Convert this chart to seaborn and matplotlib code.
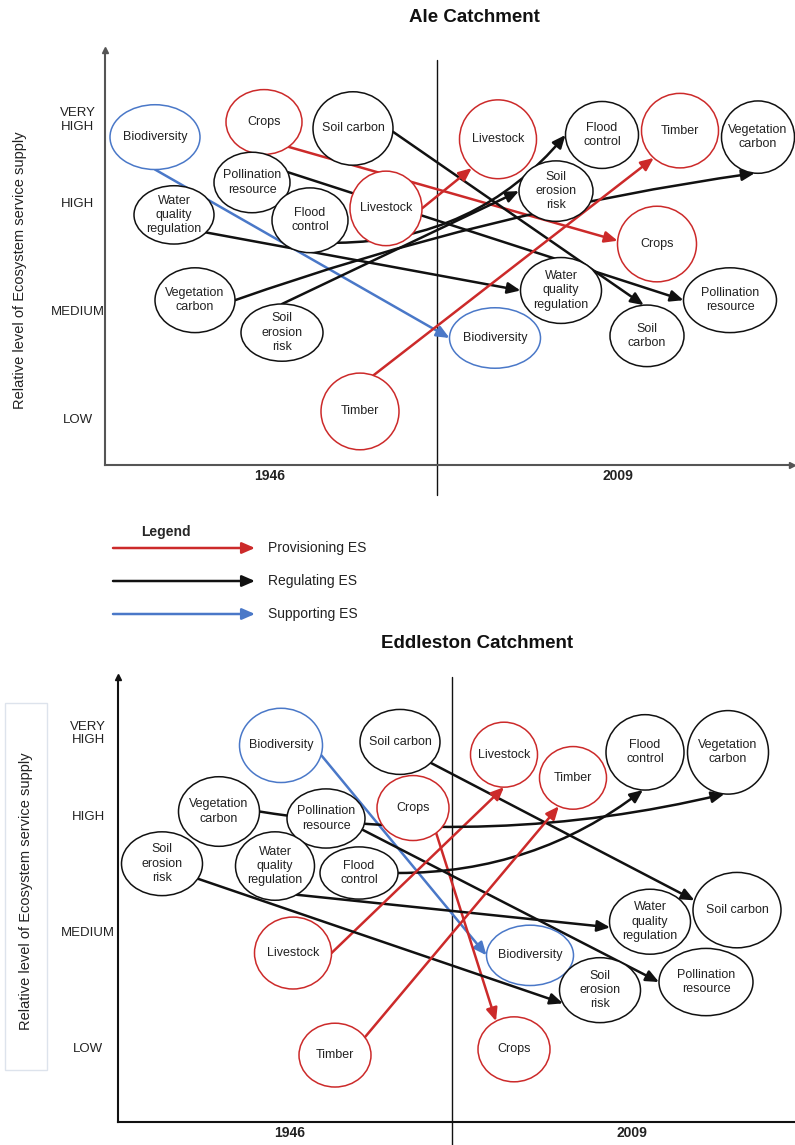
import numpy as np
import matplotlib
matplotlib.use("Agg")
import matplotlib.pyplot as plt
import seaborn as sns
from matplotlib.patches import Ellipse, FancyArrowPatch, Rectangle

# ===============================
# DATA
# ===============================
# service order used by every list below
SERVICE_TYPE = ["S", "P", "R", "R", "R", "R", "P", "R", "R", "P"]
TYPE_COLORS = {"P": "#cc2a2a", "R": "#111111", "S": "#4a78c8"}

LEGEND_TYPES = ["P", "R", "S"]
LEGEND_LABELS = ["Provisioning ES", "Regulating ES", "Supporting ES"]

LEVEL_LABELS = ["LOW", "MEDIUM", "HIGH", "VERY\nHIGH"]
YEAR_LABELS = ["1946", "2009"]

# ---- Ale catchment ----
ALE_LABELS_1946 = ["Biodiversity", "Crops", "Soil carbon", "Pollination\nresource",
                   "Water\nquality\nregulation", "Flood\ncontrol", "Livestock",
                   "Vegetation\ncarbon", "Soil\nerosion\nrisk", "Timber"]
ALE_LABELS_2009 = ["Biodiversity", "Crops", "Soil\ncarbon", "Pollination\nresource",
                   "Water\nquality\nregulation", "Flood\ncontrol", "Livestock",
                   "Vegetation\ncarbon", "Soil\nerosion\nrisk", "Timber"]
ALE_POS_1946 = [155, 264, 353, 252, 174, 310, 386, 195, 282, 360]
ALE_LEVEL_1946 = [3.61, 3.75, 3.69, 3.19, 2.89, 2.84, 2.95, 2.10, 1.80, 1.07]
ALE_POS_2009 = [495, 657, 647, 730, 561, 602, 498, 758, 556, 680]
ALE_LEVEL_2009 = [1.75, 2.62, 1.77, 2.10, 2.19, 3.63, 3.59, 3.61, 3.11, 3.67]
ALE_LEVEL_TICKS = [1, 2, 3, 3.79]

# ---- Eddleston catchment ----
EDD_LABELS_1946 = ["Biodiversity", "Crops", "Soil carbon", "Pollination\nresource",
                   "Water\nquality\nregulation", "Flood\ncontrol", "Livestock",
                   "Vegetation\ncarbon", "Soil\nerosion\nrisk", "Timber"]
EDD_LABELS_2009 = ["Biodiversity", "Crops", "Soil carbon", "Pollination\nresource",
                   "Water\nquality\nregulation", "Flood\ncontrol", "Livestock",
                   "Vegetation\ncarbon", "Soil\nerosion\nrisk", "Timber"]
EDD_POS_1946 = [281, 413, 400, 326, 275, 359, 293, 219, 162, 335]
EDD_LEVEL_1946 = [3.60, 3.06, 3.63, 2.97, 2.56, 2.50, 1.81, 3.03, 2.58, 0.93]
EDD_POS_2009 = [530, 514, 737, 706, 650, 645, 504, 728, 600, 573]
EDD_LEVEL_2009 = [1.79, 0.98, 2.18, 1.56, 2.08, 3.54, 3.52, 3.54, 1.49, 3.32]
EDD_LEVEL_TICKS = [1, 2, 3, 3.72]

# ===============================
# STYLE (bubble sizes, arrow anchors)
# ===============================
ALE_W_1946 = [90, 76, 80, 76, 80, 76, 72, 80, 82, 78]
ALE_H_1946 = [0.60, 0.60, 0.68, 0.56, 0.54, 0.60, 0.69, 0.60, 0.53, 0.71]
ALE_W_2009 = [91, 79, 74, 93, 81, 73, 77, 73, 74, 77]
ALE_H_2009 = [0.56, 0.70, 0.57, 0.60, 0.61, 0.62, 0.73, 0.67, 0.56, 0.69]
ALE_START_ANG = [-90, -50, -5, 20, -37, -44, 0, 0, 90, 70]
ALE_END_ANG = [180, 175, 95, 180, 180, 180, 227, -95, 180, 227]
ALE_RAD = [0, 0, 0, 0, 0, 0.23, 0, -0.05, 0, 0]

EDD_W_1946 = [83, 72, 80, 78, 79, 78, 77, 81, 81, 72]
EDD_H_1946 = [0.64, 0.56, 0.56, 0.51, 0.59, 0.45, 0.62, 0.60, 0.55, 0.55]
EDD_W_2009 = [87, 72, 88, 94, 81, 78, 67, 81, 81, 67]
EDD_H_2009 = [0.52, 0.56, 0.65, 0.58, 0.56, 0.65, 0.56, 0.72, 0.56, 0.54]
EDD_START_ANG = [-15, -50, -40, -22, -57, 0, 0, 0, -28, 34]
EDD_END_ANG = [180, 120, 165, 180, 190, -93, -90, -95, 204, 245]
EDD_RAD = [0, 0, 0, 0, 0, 0.17, 0, 0.1, 0, 0]

# ===============================
# FIGURE
# ===============================
sns.set_theme(style="white")
plt.rcParams["font.family"] = ["Liberation Sans", "DejaVu Sans"]

FIG_W, FIG_H = 795, 1145
fig = plt.figure(figsize=(FIG_W / 100, FIG_H / 100), dpi=100)


def px_axes(left, top, right, bottom):
    return fig.add_axes([left / FIG_W, 1 - bottom / FIG_H,
                         (right - left) / FIG_W, (bottom - top) / FIG_H])


def edge_point(x, lvl, w, h, ang):
    t = np.deg2rad(ang)
    return x + w / 2 * np.cos(t), lvl + h / 2 * np.sin(t)


def draw_panel(ax, nodes_1946, nodes_2009, start_ang, end_ang, rads):
    # arrows first, bubbles (white filled) go on top
    for i, kind in enumerate(SERVICE_TYPE):
        a = nodes_1946[i]
        b = nodes_2009[i]
        p0 = edge_point(a[0], a[1], a[2], a[3], start_ang[i])
        p1 = edge_point(b[0], b[1], b[2], b[3], end_ang[i])
        arr = FancyArrowPatch(p0, p1, arrowstyle="-|>,head_length=0.55,head_width=0.24",
                              mutation_scale=14, color=TYPE_COLORS[kind], lw=1.8,
                              shrinkA=0, shrinkB=0, zorder=2,
                              connectionstyle=f"arc3,rad={rads[i]}", clip_on=False)
        ax.add_patch(arr)
    for nodes in [nodes_1946, nodes_2009]:
        for i, kind in enumerate(SERVICE_TYPE):
            x, lvl, w, h, lab = nodes[i]
            ax.add_patch(Ellipse((x, lvl), w, h, facecolor="white",
                                 edgecolor=TYPE_COLORS[kind], lw=1.1, zorder=3, clip_on=False))
            ax.text(x, lvl, lab, ha="center", va="center", fontsize=9,
                    linespacing=1.25, color="#222222", zorder=4)


def style_axes(ax, ticks, year_pos, spine_color, tick_pad, ylab_xy, arrow_right):
    for side in ["top", "right"]:
        ax.spines[side].set_visible(False)
    for side in ["left", "bottom"]:
        ax.spines[side].set_color(spine_color)
        ax.spines[side].set_linewidth(1.5)
    ax.set_facecolor("none")
    ax.set_yticks(ticks, LEVEL_LABELS, fontsize=9.5, color="#222222")
    for t in ax.get_yticklabels():
        t.set_ha("center")
        t.set_multialignment("center")
        t.set_linespacing(1.15)
    ax.tick_params(axis="y", length=0, pad=tick_pad)
    ax.set_xticks(year_pos, YEAR_LABELS, fontsize=10, fontweight="bold", color="#222222")
    ax.tick_params(axis="x", length=0, pad=3)
    ax.set_ylabel("Relative level of Ecosystem service supply", fontsize=10.5, color="#222222")
    ax.yaxis.set_label_coords(*ylab_xy)
    ax.plot(0, 1, "^", color=spine_color, ms=5, transform=ax.transAxes, clip_on=False)
    if arrow_right:
        ax.plot(1, 0, ">", color=spine_color, ms=5, transform=ax.transAxes, clip_on=False)
    ax.grid(False)


# ===============================
# ALE CATCHMENT
# ===============================
ax1 = px_axes(105, 50, 792, 465)
ax1.set_xlim(105, 792)
ax1.set_ylim(1 + (419 - 465) / 108, 1 + (419 - 50) / 108)
ale_1946 = list(zip(ALE_POS_1946, ALE_LEVEL_1946, ALE_W_1946, ALE_H_1946, ALE_LABELS_1946))
ale_2009 = list(zip(ALE_POS_2009, ALE_LEVEL_2009, ALE_W_2009, ALE_H_2009, ALE_LABELS_2009))
draw_panel(ax1, ale_1946, ale_2009, ALE_START_ANG, ALE_END_ANG, ALE_RAD)
ax1.plot([437, 437], [1 + (419 - 60) / 108, 1 + (419 - 495) / 108], color="#111111",
         lw=1.0, clip_on=False, zorder=1)
style_axes(ax1, ALE_LEVEL_TICKS, [270, 618], "#555555", 19.5, (-0.1135, 0.47), True)

# ===============================
# EDDLESTON CATCHMENT
# ===============================
ax2 = px_axes(118, 677, 795, 1122)
ax2.set_xlim(118, 795)
ax2.set_ylim(1 + (1047 - 1122) / 116, 1 + (1047 - 677) / 116)
edd_1946 = list(zip(EDD_POS_1946, EDD_LEVEL_1946, EDD_W_1946, EDD_H_1946, EDD_LABELS_1946))
edd_2009 = list(zip(EDD_POS_2009, EDD_LEVEL_2009, EDD_W_2009, EDD_H_2009, EDD_LABELS_2009))
draw_panel(ax2, edd_1946, edd_2009, EDD_START_ANG, EDD_END_ANG, EDD_RAD)
ax2.plot([452, 452], [1 + (1047 - 677) / 116, 1 + (1047 - 1145) / 116], color="#111111",
         lw=1.0, clip_on=False, zorder=1)
style_axes(ax2, EDD_LEVEL_TICKS, [290, 632], "#111111", 21.5, (-0.1256, 0.519), False)
fig.add_artist(Rectangle((5 / FIG_W, 1 - 1070 / FIG_H), 42 / FIG_W, 367 / FIG_H,
                         transform=fig.transFigure, fill=False, ec="#dde3ec", lw=1.0))

# ===============================
# TITLES + LEGEND
# ===============================
fig.text(474 / FIG_W, 1 - 18 / FIG_H, "Ale Catchment", ha="center", va="center",
         fontsize=13.5, fontweight="bold", color="#111111")
fig.text(477 / FIG_W, 1 - 643 / FIG_H, "Eddleston Catchment", ha="center", va="center",
         fontsize=13.5, fontweight="bold", color="#111111")

lax = px_axes(0, 515, 795, 630)
lax.set_xlim(0, 795)
lax.set_ylim(630, 515)
lax.set_axis_off()
lax.text(141, 532, "Legend", ha="left", va="center", fontsize=10, fontweight="bold")
for i, (kind, lab) in enumerate(zip(LEGEND_TYPES, LEGEND_LABELS)):
    yy = 548 + i * 33
    lax.add_patch(FancyArrowPatch((113, yy), (255, yy),
                                  arrowstyle="-|>,head_length=0.55,head_width=0.24",
                                  mutation_scale=14, color=TYPE_COLORS[kind], lw=1.8,
                                  shrinkA=0, shrinkB=0))
    lax.text(268, yy, lab, ha="left", va="center", fontsize=10, color="#222222")

fig.savefig("out.png", dpi=100)
